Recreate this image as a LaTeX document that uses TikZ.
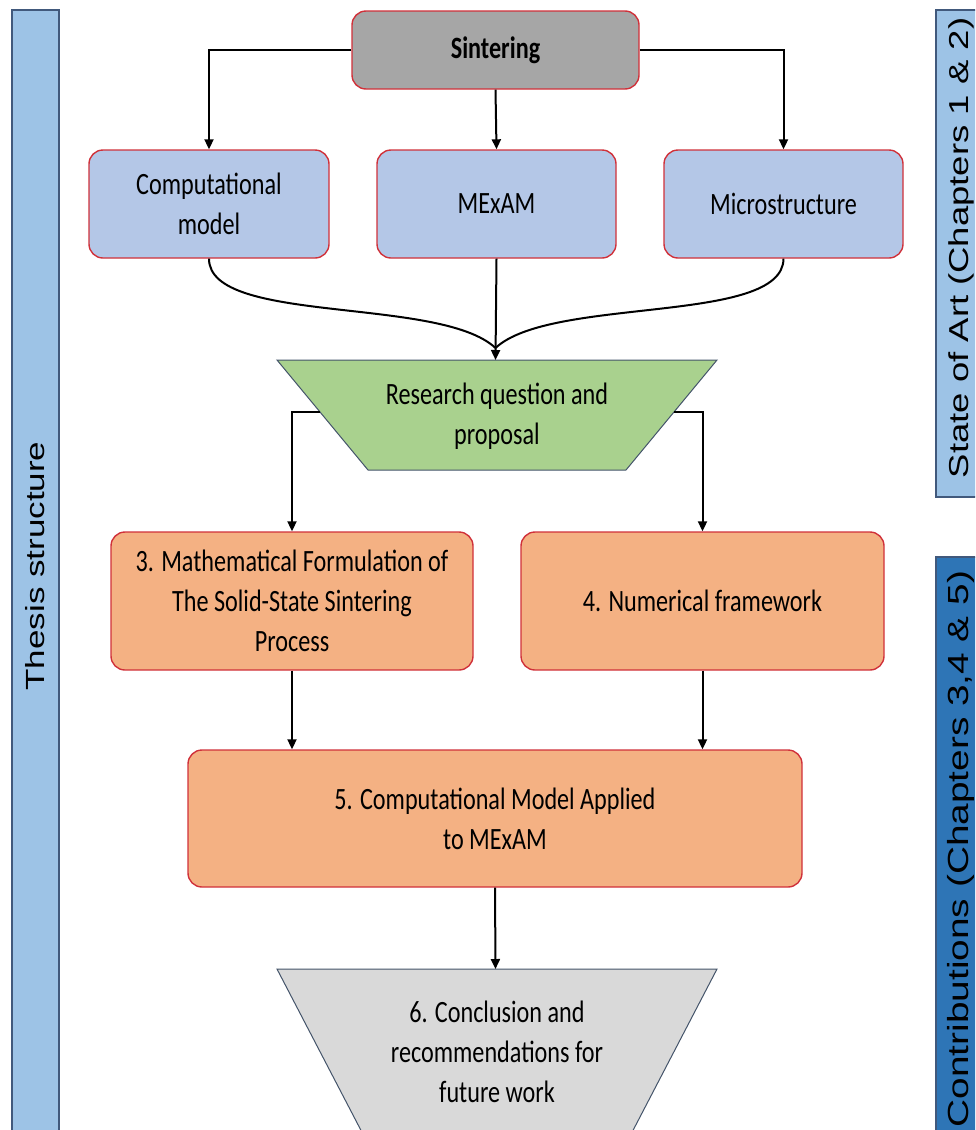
\documentclass[tikz,border=0pt]{standalone}
\usepackage{fontspec}
\setmainfont{Carlito}[FakeStretch=0.78]
\newfontfamily\arialf{Liberation Sans}
\usetikzlibrary{arrows.meta}
\definecolor{barblue}{HTML}{9DC3E6}
\definecolor{bardark}{HTML}{2E75B6}
\definecolor{barline}{HTML}{41597C}
\definecolor{boxred}{HTML}{D0313A}
\definecolor{sgray}{HTML}{A6A6A6}
\definecolor{lblue}{HTML}{B4C7E7}
\definecolor{orng}{HTML}{F4B183}
\definecolor{grn}{HTML}{A9D18E}
\definecolor{lgray}{HTML}{D9D9D9}
\definecolor{trapline}{HTML}{44546A}
\tikzset{
  bx/.style={draw=boxred, line width=1.4pt, rounded corners=14pt, align=center, inner sep=0pt,
    font=\fontsize{31}{40}\selectfont},
  bar/.style={draw=barline, line width=1.2pt},
  sidetext/.style={rotate=90, inner sep=0pt},
  arr/.style={line width=2pt, -{Triangle[length=10pt,width=9pt]}},
  conn/.style={line width=2pt},
  traptext/.style={align=center, inner sep=0pt, font=\fontsize{31}{40}\selectfont},
}
\begin{document}
\begin{tikzpicture}[x=1pt,y=-1pt]
\useasboundingbox (0,0) rectangle (975,1130);
\clip (0,0) rectangle (975,1130);
% side bars
\draw[bar, fill=barblue] (12,10) rectangle (59,1140);
\node[sidetext] (ts) at (35.5,566) {\scalebox{1}[0.75]{\arialf\fontsize{35}{40}\selectfont Thesis structure}};
\draw[bar, fill=barblue] (936,10) rectangle (990,497);
\node[sidetext] (sa) at (961,248) {\scalebox{1}[0.75]{\arialf\fontsize{36.5}{40}\selectfont State of Art (Chapters 1 \& 2)}};
\draw[bar, fill=bardark] (936,557) rectangle (990,1145);
\node[sidetext] (co) at (961,849) {\scalebox{1}[0.75]{\arialf\fontsize{38.8}{40}\selectfont Contributions (Chapters 3,4 \& 5)}};
% top box
\node[bx, fill=sgray, minimum width=287pt, minimum height=78pt] (sin) at (495.5,50) {\bfseries Sintering};
% second row
\node[bx, fill=lblue, minimum width=240pt, minimum height=108pt] (cm) at (209,204) {Computational\\model};
\node[bx, fill=lblue, minimum width=239pt, minimum height=108pt] (mx) at (496.5,204) {MExAM};
\node[bx, fill=lblue, minimum width=239pt, minimum height=108pt] (ms) at (783.5,204) {Microstructure};
% green trapezoid
\coordinate (g1) at (277,360);
\coordinate (g2) at (717,360);
\coordinate (g3) at (626,470);
\coordinate (g4) at (368,470);
\draw[draw=trapline, line width=1pt, fill=grn] (g1) -- (g2) -- (g3) -- (g4) -- cycle;
\node[traptext] (rq) at (497,416) {Research question and\\proposal};
\coordinate (rqL) at (320,412);
\coordinate (rqR) at (674,412);
\coordinate (rqT) at (495.5,360);
\coordinate (mrg) at (495.5,348);
% third row
\node[bx, fill=orng, minimum width=362pt, minimum height=138pt] (m3) at (292,601) {3. Mathematical Formulation of\\The Solid-State Sintering\\Process};
\node[bx, fill=orng, minimum width=363pt, minimum height=138pt] (m4) at (702.5,601) {4. Numerical framework};
% fourth row
\node[bx, fill=orng, minimum width=614pt, minimum height=137pt] (m5) at (495,818.5) {5. Computational Model Applied\\to MExAM};
% gray trapezoid
\coordinate (c1) at (277,969);
\coordinate (c2) at (717,969);
\coordinate (c3) at (628,1140);
\coordinate (c4) at (366,1140);
\draw[draw=trapline, line width=1pt, fill=lgray] (c1) -- (c2) -- (c3) -- (c4) -- cycle;
\node[traptext] (cc) at (497,1052) {6. Conclusion and\\recommendations for\\future work};
\coordinate (ccT) at (495.5,969);
% connectors
\draw[arr] (sin.west) -| (cm.north);
\draw[arr] (sin.east) -| (ms.north);
\draw[arr] (sin.south) -- (mx.north);
\draw[conn] (cm.south) .. controls (209,325) and (440,296) .. (mrg);
\draw[conn] (ms.south) .. controls (783,325) and (551,296) .. (mrg);
\draw[arr] (mx.south) -- (rqT);
\draw[arr] (rqL) -| (m3.north);
\draw[arr] (rqR) -| (m4.north);
\draw[arr] (m3.south) -- (m3.south |- m5.north);
\draw[arr] (m4.south) -- (m4.south |- m5.north);
\draw[arr] (m5.south) -- (ccT);
\end{tikzpicture}
\end{document}
